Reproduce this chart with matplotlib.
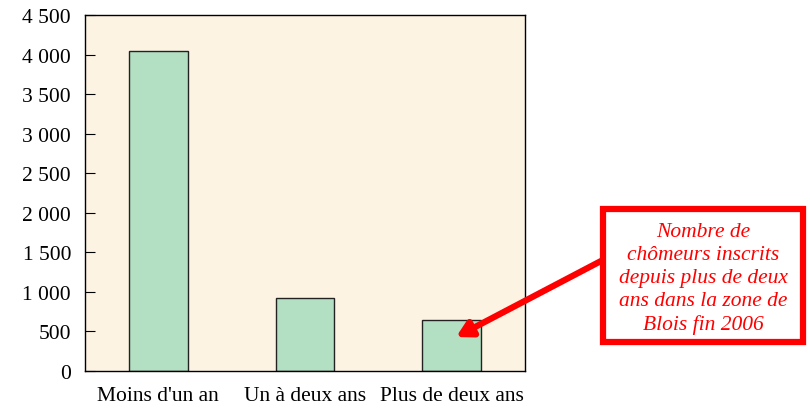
import matplotlib
matplotlib.use('Agg')
import matplotlib.pyplot as plt
from matplotlib.patches import Rectangle
from matplotlib.ticker import FuncFormatter

categories = ["Moins d'un an", "Un à deux ans", "Plus de deux ans"]
values = [4045, 923, 645]
yticks = [0, 500, 1000, 1500, 2000, 2500, 3000, 3500, 4000, 4500]
note = "Nombre de\nchômeurs inscrits\ndepuis plus de deux\nans dans la zone de\nBlois fin 2006"

plt.rcParams['font.family'] = ['Liberation Serif', 'DejaVu Serif']

fig = plt.figure(figsize=(8.1, 4.14), dpi=100)
ax = fig.add_axes([85 / 810, 42 / 414, 440 / 810, 356 / 414])
ax.set_facecolor('#fdf3e3')

x = range(len(categories))
ax.bar(x, values, width=0.4, color='#b3dfc3', edgecolor='#222222', linewidth=1.0)
ax.set_xlim(-0.5, 2.5)
ax.set_ylim(0, 4500)
ax.set_yticks(yticks)
ax.yaxis.set_major_formatter(FuncFormatter(lambda v, p: f"{int(v):,}".replace(",", " ")))
ax.set_xticks(list(x))
ax.set_xticklabels(categories)
ax.tick_params(axis='y', direction='in', length=7, labelsize=15.5, pad=10)
ax.tick_params(axis='x', length=0, labelsize=15.5, pad=11)
for s in ax.spines.values():
    s.set_linewidth(1.0)

# note box
box = Rectangle((603 / 810, 1 - 343 / 414), 200 / 810, 133 / 414,
                transform=fig.transFigure, fc='white', ec='red', lw=4.5)
fig.patches.append(box)
fig.text(703 / 810, 1 - 279 / 414, note, ha='center', va='center', color='red',
         style='italic', fontsize=15.5, linespacing=1.3)

ax.annotate('', xy=(2.03, 430), xycoords='data',
            xytext=(601 / 810, 1 - 262 / 414), textcoords='figure fraction',
            arrowprops=dict(arrowstyle='-|>,head_length=0.9,head_width=0.5',
                            color='red', lw=4.5, shrinkA=0, shrinkB=0))

fig.savefig('out.png', dpi=100)
